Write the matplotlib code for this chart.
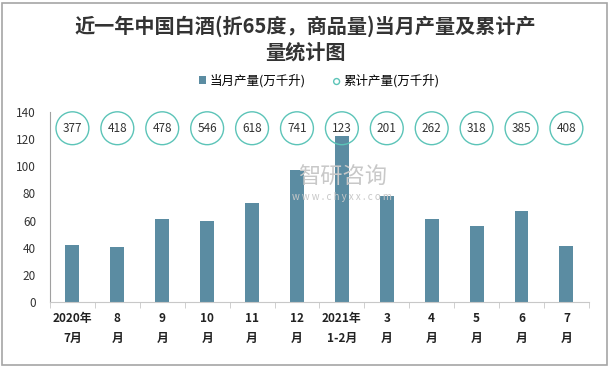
import numpy as np
import matplotlib.pyplot as plt
from matplotlib.patches import Rectangle

plt.rcParams['font.family'] = ['Noto Sans CJK SC', 'DejaVu Sans']

# data
months = ['2020年\n7月', '8\n月', '9\n月', '10\n月', '11\n月', '12\n月',
          '2021年\n1-2月', '3\n月', '4\n月', '5\n月', '6\n月', '7\n月']
monthly = [42.3, 40.8, 61.4, 59.8, 72.8, 97.3, 122.5, 78.3, 61.0, 55.8, 67.3, 41.0]
cumulative = [377, 418, 478, 546, 618, 741, 123, 201, 262, 318, 385, 408]

bar_color = '#5b8ca2'
circle_color = '#5cc4b8'

fig = plt.figure(figsize=(6.11, 3.69), dpi=100)
fig.patches.append(Rectangle((0.004, 0.01), 0.99, 0.982, transform=fig.transFigure,
                             fill=False, edgecolor='#a6a6a6', linewidth=1.2))

ax = fig.add_axes([0.0818, 0.1816, 0.882, 0.515])
x = np.arange(len(months))
bars = ax.bar(x, monthly, width=0.31, color=bar_color, zorder=2, label='当月产量(万千升)')

# cumulative values shown as circles near the top
circle_y = 128
circles = ax.scatter(x, [circle_y] * len(x), s=560, facecolor='none', edgecolor=circle_color,
                     linewidth=1.0, zorder=3, clip_on=False, label='累计产量(万千升)')
for xi, v in zip(x, cumulative):
    ax.text(xi, circle_y, str(v), ha='center', va='center', fontsize=8.5,
            color='#333333', zorder=4)

ax.set_xlim(-0.5, len(months) - 0.5)
ax.set_ylim(0, 140)
ax.set_yticks(np.arange(0, 141, 20))
ax.tick_params(axis='y', length=0, labelsize=8.5, colors='#333333', pad=10)
ax.set_xticks(x)
ax.set_xticklabels(months, fontsize=8.5, fontweight='bold', color='#222222', linespacing=1.7)
ax.set_xticks(np.arange(-0.5, len(months), 1), minor=True)
ax.tick_params(axis='x', which='major', length=0, pad=7)
ax.tick_params(axis='x', which='minor', length=4, color='#c8c8c8')

for side in ['top', 'right']:
    ax.spines[side].set_visible(False)
ax.spines['left'].set_color('#a0a0a0')
ax.spines['bottom'].set_color('#c8c8c8')

# watermark
fig.text(0.56, 0.518, '智研咨询', fontsize=16, color='#c8c8c8', ha='center', va='center', zorder=0)
fig.text(0.56, 0.465, 'w w w . c h y x x . c o m', fontsize=7, color='#c8c8c8',
         ha='center', va='center', zorder=0)

fig.text(0.5, 0.895, '近一年中国白酒(折65度，商品量)当月产量及累计产\n量统计图', ha='center',
         va='center', fontsize=14.5, fontweight='bold', color='#333333', linespacing=1.3)

ax.legend([bars, circles], ['当月产量(万千升)', '累计产量(万千升)'], loc='center',
          bbox_to_anchor=(0.5, 1.165), ncol=2, frameon=False, fontsize=9,
          handlelength=0.55, handleheight=0.55, handletextpad=0.3, columnspacing=2.2,
          markerscale=0.18)

fig.savefig('out.png', dpi=100)
